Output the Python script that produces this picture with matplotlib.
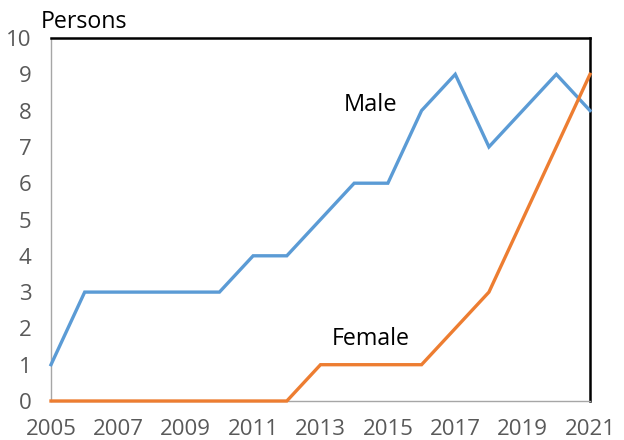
import numpy as np
import matplotlib.pyplot as plt

years = list(range(2005, 2022))
male = [1, 3, 3, 3, 3, 3, 4, 4, 5, 6, 6, 8, 9, 7, 8, 9, 8]
female = [0, 0, 0, 0, 0, 0, 0, 0, 1, 1, 1, 1, 2, 3, 5, 7, 9]
xticks = list(range(2005, 2022, 2))
yticks = list(range(0, 11))

plt.rcParams['font.family'] = ['Open Sans', 'DejaVu Sans']

fig = plt.figure(figsize=(6.24, 4.4), dpi=100)
ax = fig.add_axes([51 / 624, 1 - 401 / 440, 539 / 624, 363 / 440])

ax.plot(years, male, color='#5B9BD5', lw=2.4, solid_joinstyle='miter', clip_on=False, zorder=3)
ax.plot(years, female, color='#ED7D31', lw=2.4, solid_joinstyle='miter', clip_on=False, zorder=3)

ax.set_xlim(2005, 2021)
ax.set_ylim(0, 10)
ax.set_xticks(xticks)
ax.set_yticks(yticks)
ax.tick_params(length=0, labelsize=16, labelcolor='#595959')
ax.tick_params(axis='x', pad=13)
ax.tick_params(axis='y', pad=14)

ax.spines['left'].set_color('#A6A6A6')
ax.spines['bottom'].set_color('#A6A6A6')
ax.spines['left'].set_linewidth(1.0)
ax.spines['bottom'].set_linewidth(1.0)
ax.spines['top'].set_color('black')
ax.spines['right'].set_color('black')
ax.spines['top'].set_linewidth(1.8)
ax.spines['right'].set_linewidth(1.8)

ax.text(2014.5, 8.24, 'Male', fontsize=17, ha='center', va='center_baseline')
ax.text(2014.5, 1.79, 'Female', fontsize=16.7, ha='center', va='center_baseline')
fig.text(41 / 624, 1 - 19 / 440, 'Persons', fontsize=16.7, ha='left', va='center_baseline')

fig.savefig('out.png', dpi=100)
